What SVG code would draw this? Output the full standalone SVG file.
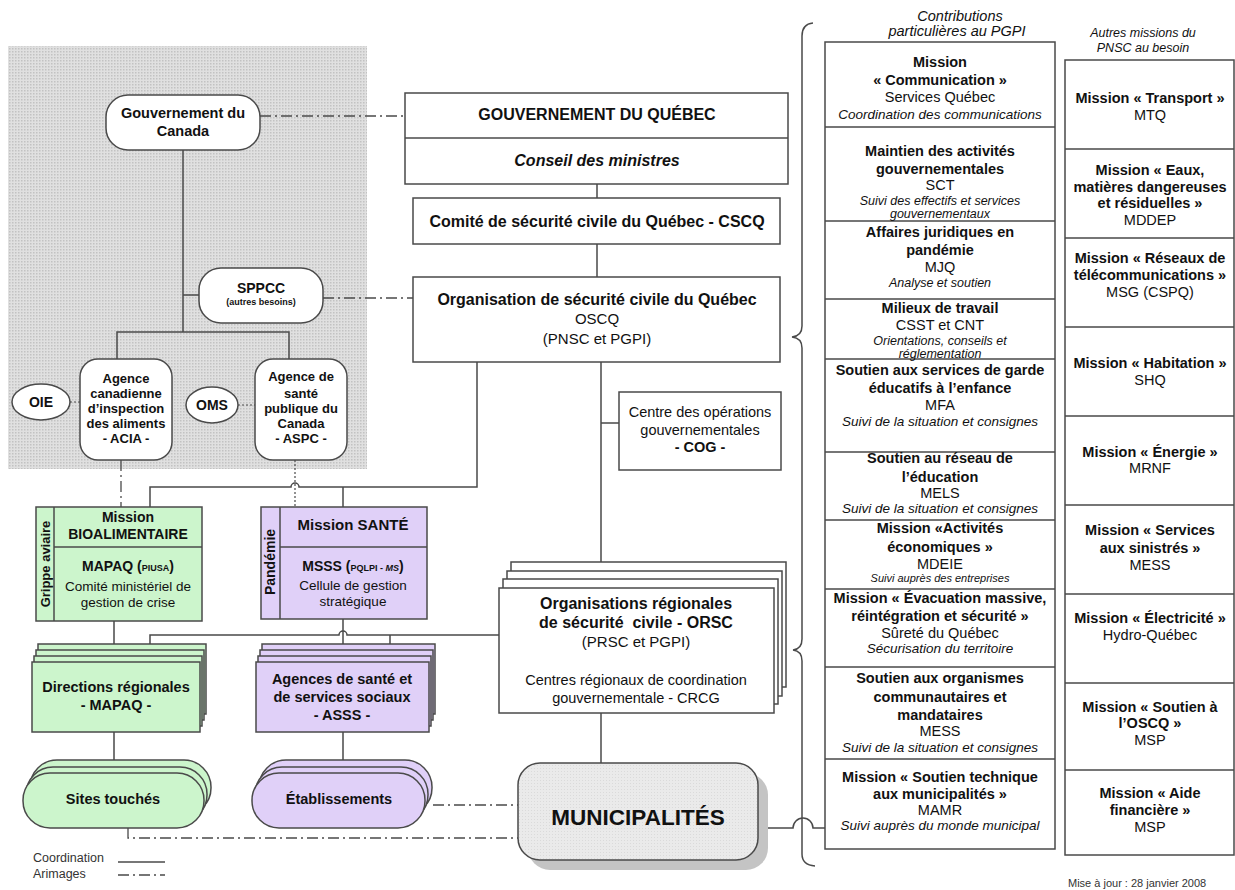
<svg xmlns="http://www.w3.org/2000/svg" width="1235" height="890" viewBox="0 0 1235 890">
<defs>
<pattern id="dots" width="3" height="3" patternUnits="userSpaceOnUse"><rect width="3" height="3" fill="#e0e0e0"/><rect width="1.5" height="1.5" fill="#c2c2c2"/></pattern>
<pattern id="mdots" width="3" height="3" patternUnits="userSpaceOnUse"><rect width="3" height="3" fill="#eaeaea"/><rect width="1" height="1" fill="#dadada"/></pattern>
<style>
text{font-family:"Liberation Sans",Arial,sans-serif;fill:#111;text-anchor:middle}
.b{font-weight:bold}
.i{font-style:italic}
.box{fill:#fff;stroke:#4a4a4a;stroke-width:1.5}
.g{fill:#ccf5cc;stroke:#4a4a4a;stroke-width:1.5}
.p{fill:#e0d0f8;stroke:#4a4a4a;stroke-width:1.5}
.ln{fill:none;stroke:#4a4a4a;stroke-width:1.5}
.dd{fill:none;stroke:#4a4a4a;stroke-width:1.3;stroke-dasharray:11 4 2 4}
.dt{fill:none;stroke:#4a4a4a;stroke-width:1.2;stroke-dasharray:2 2}
.c1 text{font-size:14.5px}
.c2 text{font-size:14.5px}
</style>
</defs>
<rect id="federal-zone" x="8" y="46" width="359" height="423" fill="url(#dots)"/>

<g id="connectors">
<path class="ln" d="M183 150 V332 M183 295 H199 M117 359 V332 H289 V359"/>
<path class="dt" d="M70 402 H80 M238 405 H255"/>
<path class="dd" d="M260 116 H405 M323 298 H413"/>
<path class="ln" d="M597 184 V198 M597 244 V277"/>
<path class="ln" d="M477 362 V487 H299 A4 4 0 0 0 291 487 H150 V507 M343 487 V507"/>
<path class="dd" d="M121 460 V507"/>
<path class="dt" d="M295 460 V507"/>
<path class="ln" d="M601 362 V562 M601 423 H619"/>
<path class="ln" d="M114 621 V644 M114 732 V760 M343 619 V648 M343 732 V760"/>
<path class="ln" d="M499 635 H347 A4 4 0 0 0 339 635 H150 V644 M390 635 V644"/>
<path class="ln" d="M601 713 V763"/>
<path class="dd" d="M433 805 H518 M128 828 V838 H518"/>
<path class="ln" d="M758 828 H793 A10 10 0 0 1 813 828 H825"/>
<path class="ln" d="M813 23 Q802 24 802 36 V326 Q802 336 792 337 Q802 338 802 348 V639 Q802 649 793 650 Q802 651 802 661 V854 Q802 865 815 866"/>
</g>

<g id="gouv-canada">
<rect class="box" x="106" y="95" width="154" height="55" rx="22"/>
<text class="b" x="183" y="118" font-size="14.5">Gouvernement du</text>
<text class="b" x="183" y="136" font-size="14.5">Canada</text>
</g>
<g id="sppcc">
<rect class="box" x="199" y="268" width="124" height="55" rx="22"/>
<text class="b" x="261" y="293" font-size="14">SPPCC</text>
<text class="b" x="261" y="305" font-size="9">(autres besoins)</text>
</g>
<g id="acia">
<rect class="box" x="80" y="359" width="92" height="101" rx="18"/>
<text class="b" x="126" y="383" font-size="13">Agence</text>
<text class="b" x="126" y="398" font-size="13">canadienne</text>
<text class="b" x="126" y="413" font-size="13">d’inspection</text>
<text class="b" x="126" y="428" font-size="13">des aliments</text>
<text class="b" x="126" y="443" font-size="13">- ACIA -</text>
</g>
<g id="aspc">
<rect class="box" x="255" y="359" width="92" height="101" rx="18"/>
<text class="b" x="301" y="381" font-size="13">Agence de</text>
<text class="b" x="301" y="398" font-size="13">santé</text>
<text class="b" x="301" y="413" font-size="13">publique du</text>
<text class="b" x="301" y="428" font-size="13">Canada</text>
<text class="b" x="301" y="443" font-size="13">- ASPC -</text>
</g>
<g id="oie">
<ellipse class="box" cx="41" cy="402" rx="29" ry="18"/>
<text class="b" x="41" y="407" font-size="14">OIE</text>
</g>
<g id="oms">
<ellipse class="box" cx="212" cy="405" rx="26" ry="18"/>
<text class="b" x="212" y="410" font-size="14">OMS</text>
</g>

<g id="gouv-quebec">
<rect class="box" x="405" y="93" width="383" height="91"/>
<line class="ln" x1="405" y1="138" x2="788" y2="138"/>
<text class="b" x="597" y="120" font-size="16">GOUVERNEMENT DU QUÉBEC</text>
<text class="b i" x="597" y="166" font-size="16">Conseil des ministres</text>
</g>
<g id="cscq">
<rect class="box" x="413" y="198" width="367" height="46"/>
<text class="b" x="597" y="227" font-size="16">Comité de sécurité civile du Québec - CSCQ</text>
</g>
<g id="oscq">
<rect class="box" x="413" y="277" width="367" height="85"/>
<text class="b" x="597" y="305" font-size="16">Organisation de sécurité civile du Québec</text>
<text x="597" y="324" font-size="15">OSCQ</text>
<text x="597" y="344" font-size="15">(PNSC et PGPI)</text>
</g>
<g id="cog">
<rect class="box" x="619" y="392" width="162" height="78"/>
<text x="700" y="417" font-size="14.5">Centre des opérations</text>
<text x="700" y="435" font-size="14.5">gouvernementales</text>
<text class="b" x="700" y="452" font-size="14.5">- COG -</text>
</g>

<g id="bioalimentaire">
<rect class="g" x="36" y="507" width="166" height="114"/>
<line class="ln" x1="54" y1="507" x2="54" y2="621"/>
<line class="ln" x1="54" y1="547" x2="202" y2="547"/>
<text class="b" transform="translate(50,564) rotate(-90)" font-size="13">Grippe aviaire</text>
<text class="b" x="128" y="522" font-size="14">Mission</text>
<text class="b" x="128" y="539" font-size="14">BIOALIMENTAIRE</text>
<text class="b" x="128" y="571" font-size="14">MAPAQ (<tspan font-size="9">PIUSA</tspan>)</text>
<text x="128" y="591" font-size="13.5">Comité ministériel de</text>
<text x="128" y="607" font-size="13.5">gestion de crise</text>
</g>
<g id="sante">
<rect class="p" x="261" y="507" width="166" height="112"/>
<line class="ln" x1="280" y1="507" x2="280" y2="619"/>
<line class="ln" x1="280" y1="547" x2="427" y2="547"/>
<text class="b" transform="translate(275,562) rotate(-90)" font-size="14">Pandémie</text>
<text class="b" x="353" y="530" font-size="15">Mission SANTÉ</text>
<text class="b" x="353" y="571" font-size="14">MSSS (<tspan font-size="9">PQLPI - </tspan><tspan font-size="9" font-style="italic">MS</tspan>)</text>
<text x="353" y="590" font-size="13.5">Cellule de gestion</text>
<text x="353" y="606" font-size="13.5">stratégique</text>
</g>
<g id="directions-regionales">
<rect class="g" x="38" y="644" width="168" height="70"/>
<rect class="g" x="36" y="650" width="168" height="70"/>
<rect class="g" x="34" y="656" width="168" height="70"/>
<rect class="g" x="32" y="662" width="168" height="70"/>
<text class="b" x="116" y="692" font-size="14.5">Directions régionales</text>
<text class="b" x="116" y="710" font-size="14.5">-  MAPAQ -</text>
</g>
<g id="asss">
<rect class="p" x="262" y="644" width="173" height="70"/>
<rect class="p" x="260" y="650" width="173" height="70"/>
<rect class="p" x="258" y="656" width="173" height="70"/>
<rect class="p" x="256" y="662" width="173" height="70"/>
<text class="b" x="342" y="684" font-size="14.5">Agences de santé et</text>
<text class="b" x="342" y="702" font-size="14.5">de services sociaux</text>
<text class="b" x="342" y="720" font-size="14.5">- ASSS -</text>
</g>
<g id="sites-touches">
<rect class="g" x="30" y="760" width="181" height="55" rx="27"/>
<rect class="g" x="26" y="767" width="181" height="55" rx="27"/>
<rect class="g" x="23" y="773" width="181" height="55" rx="27"/>
<text class="b" x="113" y="804" font-size="14.5">Sites touchés</text>
</g>
<g id="etablissements">
<rect class="p" x="259" y="760" width="173" height="55" rx="27"/>
<rect class="p" x="255" y="767" width="173" height="55" rx="27"/>
<rect class="p" x="252" y="773" width="173" height="55" rx="27"/>
<text class="b" x="339" y="804" font-size="14.5">Établissements</text>
</g>
<g id="orsc">
<rect class="box" x="511" y="562" width="275" height="125"/>
<rect class="box" x="507" y="571" width="275" height="125"/>
<rect class="box" x="503" y="579" width="275" height="125"/>
<rect class="box" x="499" y="588" width="275" height="125"/>
<text class="b" x="636" y="609" font-size="16">Organisations régionales</text>
<text class="b" x="636" y="628" font-size="16" xml:space="preserve">de sécurité  civile - ORSC</text>
<text x="636" y="647" font-size="15">(PRSC et PGPI)</text>
<text x="636" y="685" font-size="14.5">Centres régionaux de coordination</text>
<text x="636" y="703" font-size="14.5">gouvernementale - CRCG</text>
</g>
<g id="municipalites">
<rect x="528" y="773" width="240" height="97" rx="22" fill="#c4c4c4"/>
<rect x="518" y="763" width="240" height="97" rx="22" fill="url(#mdots)" stroke="#4a4a4a" stroke-width="1.5"/>
<text class="b" x="638" y="825" font-size="22.5">MUNICIPALITÉS</text>
</g>

<g id="contributions-pgpi" class="c1">
<text class="i" x="960" y="21" font-size="12.5">Contributions</text>
<text class="i" x="957" y="36" font-size="12.5">particulières au PGPI</text>
<rect class="box" x="825" y="42" width="230" height="807"/>
<path class="ln" d="M825 127 H1055 M825 221 H1055 M825 299 H1055 M825 359 H1055 M825 452 H1055 M825 520 H1055 M825 589 H1055 M825 667 H1055 M825 759 H1055"/>
<text class="b" x="940" y="67">Mission</text>
<text class="b" x="940" y="85">« Communication »</text>
<text x="940" y="102">Services Québec</text>
<text class="i" x="940" y="119" style="font-size:13.5px">Coordination des communications</text>
<text class="b" x="940" y="156">Maintien des activités</text>
<text class="b" x="940" y="174">gouvernementales</text>
<text x="940" y="190">SCT</text>
<text class="i" x="940" y="205" style="font-size:12.5px">Suivi des effectifs et services</text>
<text class="i" x="940" y="218" style="font-size:12.5px">gouvernementaux</text>
<text class="b" x="940" y="237">Affaires juridiques en</text>
<text class="b" x="940" y="255">pandémie</text>
<text x="940" y="272">MJQ</text>
<text class="i" x="940" y="287" style="font-size:12.5px">Analyse et soutien</text>
<text class="b" x="940" y="313">Milieux de travail</text>
<text x="940" y="330">CSST et CNT</text>
<text class="i" x="940" y="345" style="font-size:12.5px">Orientations, conseils et</text>
<text class="i" x="940" y="358" style="font-size:12.5px">réglementation</text>
<text class="b" x="940" y="375">Soutien aux services de garde</text>
<text class="b" x="940" y="393">éducatifs à l’enfance</text>
<text x="940" y="410">MFA</text>
<text class="i" x="940" y="426" style="font-size:13.5px">Suivi de la situation et consignes</text>
<text class="b" x="940" y="463">Soutien au réseau de</text>
<text class="b" x="940" y="482">l’éducation</text>
<text x="940" y="498">MELS</text>
<text class="i" x="940" y="513" style="font-size:13.5px">Suivi de la situation et consignes</text>
<text class="b" x="940" y="533">Mission «Activités</text>
<text class="b" x="940" y="552">économiques »</text>
<text x="940" y="569">MDEIE</text>
<text class="i" x="940" y="582" style="font-size:11px">Suivi auprès des entreprises</text>
<text class="b" x="940" y="603">Mission « Évacuation massive,</text>
<text class="b" x="940" y="621">réintégration et sécurité »</text>
<text x="940" y="638">Sûreté du Québec</text>
<text class="i" x="940" y="653" style="font-size:13.5px">Sécurisation du territoire</text>
<text class="b" x="940" y="683">Soutien aux organismes</text>
<text class="b" x="940" y="702">communautaires et</text>
<text class="b" x="940" y="720">mandataires</text>
<text x="940" y="736">MESS</text>
<text class="i" x="940" y="752" style="font-size:13.5px">Suivi de la situation et consignes</text>
<text class="b" x="940" y="782">Mission « Soutien technique</text>
<text class="b" x="940" y="799">aux municipalités »</text>
<text x="940" y="815">MAMR</text>
<text class="i" x="940" y="830" style="font-size:13.5px">Suivi auprès du monde municipal</text>
</g>

<g id="autres-missions-pnsc" class="c2">
<text class="i" x="1143" y="37" style="font-size:12.5px">Autres missions du</text>
<text class="i" x="1143" y="52" style="font-size:12.5px">PNSC au besoin</text>
<rect class="box" x="1065" y="60" width="169" height="795"/>
<path class="ln" d="M1065 149 H1234 M1065 238 H1234 M1065 327 H1234 M1065 416 H1234 M1065 505 H1234 M1065 594 H1234 M1065 683 H1234 M1065 770 H1234"/>
<text class="b" x="1150" y="103">Mission « Transport »</text>
<text x="1150" y="120">MTQ</text>
<text class="b" x="1150" y="175">Mission « Eaux,</text>
<text class="b" x="1150" y="192">matières dangereuses</text>
<text class="b" x="1150" y="208">et résiduelles »</text>
<text x="1150" y="225">MDDEP</text>
<text class="b" x="1150" y="263">Mission « Réseaux de</text>
<text class="b" x="1150" y="280">télécommunications »</text>
<text x="1150" y="297">MSG (CSPQ)</text>
<text class="b" x="1150" y="368">Mission « Habitation »</text>
<text x="1150" y="385">SHQ</text>
<text class="b" x="1150" y="457">Mission « Énergie »</text>
<text x="1150" y="473">MRNF</text>
<text class="b" x="1150" y="535">Mission « Services</text>
<text class="b" x="1150" y="553">aux sinistrés »</text>
<text x="1150" y="570">MESS</text>
<text class="b" x="1150" y="623">Mission « Électricité »</text>
<text x="1150" y="640">Hydro-Québec</text>
<text class="b" x="1150" y="712">Mission « Soutien à</text>
<text class="b" x="1150" y="728">l’OSCQ »</text>
<text x="1150" y="745">MSP</text>
<text class="b" x="1150" y="798">Mission « Aide</text>
<text class="b" x="1150" y="815">financière »</text>
<text x="1150" y="832">MSP</text>
</g>

<g id="legend">
<text x="33" y="862" font-size="12.5" style="text-anchor:start;fill:#333">Coordination</text>
<line class="ln" x1="118" y1="862" x2="165" y2="862"/>
<text x="33" y="878" font-size="12.5" style="text-anchor:start;fill:#333">Arimages</text>
<line class="dd" x1="118" y1="875" x2="165" y2="875"/>
</g>
<text id="mise-a-jour" x="1068" y="887" font-size="11" style="text-anchor:start;fill:#333">Mise à jour : 28 janvier 2008</text>
</svg>
